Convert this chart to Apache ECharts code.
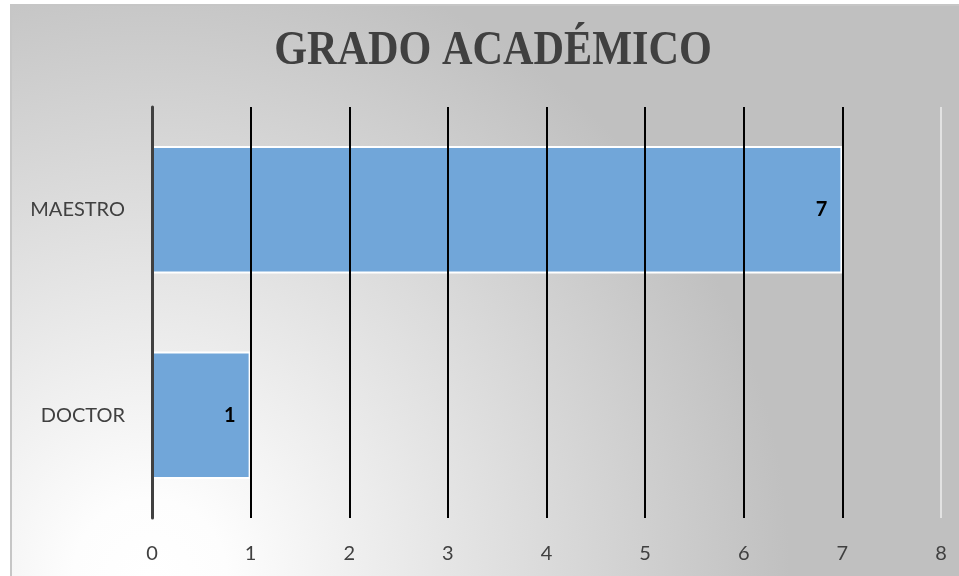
<!DOCTYPE html>
<html lang="es">
<head>
    <meta charset="UTF-8"/>
    <title>Grado Académico</title>
    <script src="https://cdn.jsdelivr.net/npm/echarts@6/dist/echarts.min.js"></script>
    <style>
        html, body { margin: 0; padding: 0; background: #fff; }
    </style>
</head>
<body>
<div id="main" style="width:959px; height:576px;"></div>
<script type="text/javascript">

    var titleText = 'GRADO ACADÉMICO';
    var categories = ['DOCTOR', 'MAESTRO'];
    var values = [1, 7];
    var xTicks = [0, 1, 2, 3, 4, 5, 6, 7, 8];

    // gridline colours, one per tick (last one is pale in the original)
    var gridColors = ['#000', '#000', '#000', '#000', '#000', '#000', '#000', '#000', '#e2e2e2'];

    var myChart = echarts.init(document.getElementById('main'));

    var option = {
        backgroundColor: '#fff',
        graphic: [
            {
                type: 'rect',
                z: -10,
                silent: true,
                shape: { x: 11, y: 5, width: 950, height: 575 },
                style: {
                    fill: {
                        type: 'radial',
                        global: true,
                        x: 150, y: 576, r: 640,
                        colorStops: [
                            { offset: 0, color: '#ffffff' },
                            { offset: 0.12, color: '#fdfdfd' },
                            { offset: 1, color: '#c0c0c0' }
                        ]
                    },
                    stroke: '#c6c6c6',
                    lineWidth: 2
                }
            },
            {
                // title drawn as graphic text so it can be narrowed like the original
                type: 'text',
                silent: true,
                x: 493,
                y: 52,
                scaleX: 0.88,
                style: {
                    x: 0,
                    y: 0,
                    text: titleText,
                    align: 'center',
                    verticalAlign: 'middle',
                    fontFamily: 'Liberation Serif',
                    fontWeight: 'bold',
                    fontSize: 48,
                    fill: '#404040'
                }
            }
        ],
        grid: {
            left: 152,
            right: 18,
            top: 107,
            bottom: 58,
            containLabel: false
        },
        xAxis: {
            type: 'value',
            z: 5, // gridlines sit on top of the bars in the original
            min: xTicks[0],
            max: xTicks[xTicks.length - 1],
            interval: 1,
            axisLine: { show: false },
            axisTick: { show: false },
            axisLabel: {
                margin: 26,
                fontFamily: 'Lato',
                fontSize: 20,
                color: '#404040'
            },
            splitLine: {
                show: true,
                lineStyle: { color: gridColors, width: 2 }
            }
        },
        yAxis: {
            type: 'category',
            z: 6,
            data: categories,
            axisLine: { show: true, lineStyle: { color: '#404040', width: 3 } },
            axisTick: { show: false },
            axisLabel: {
                margin: 27,
                fontFamily: 'Lato',
                fontSize: 20,
                color: '#404040',
                padding: [8, 0, 0, 0]
            }
        },
        series: [
            {
                type: 'bar',
                data: values,
                barWidth: '62%',
                itemStyle: {
                    color: '#71a6d9',
                    borderColor: '#ffffff',
                    borderWidth: 2
                },
                label: {
                    show: true,
                    position: 'insideRight',
                    distance: 15,
                    fontFamily: 'Lato',
                    fontWeight: 'bold',
                    fontSize: 20,
                    color: '#000'
                }
            }
        ]
    };

    myChart.setOption(option);
</script>
</body>
</html>
